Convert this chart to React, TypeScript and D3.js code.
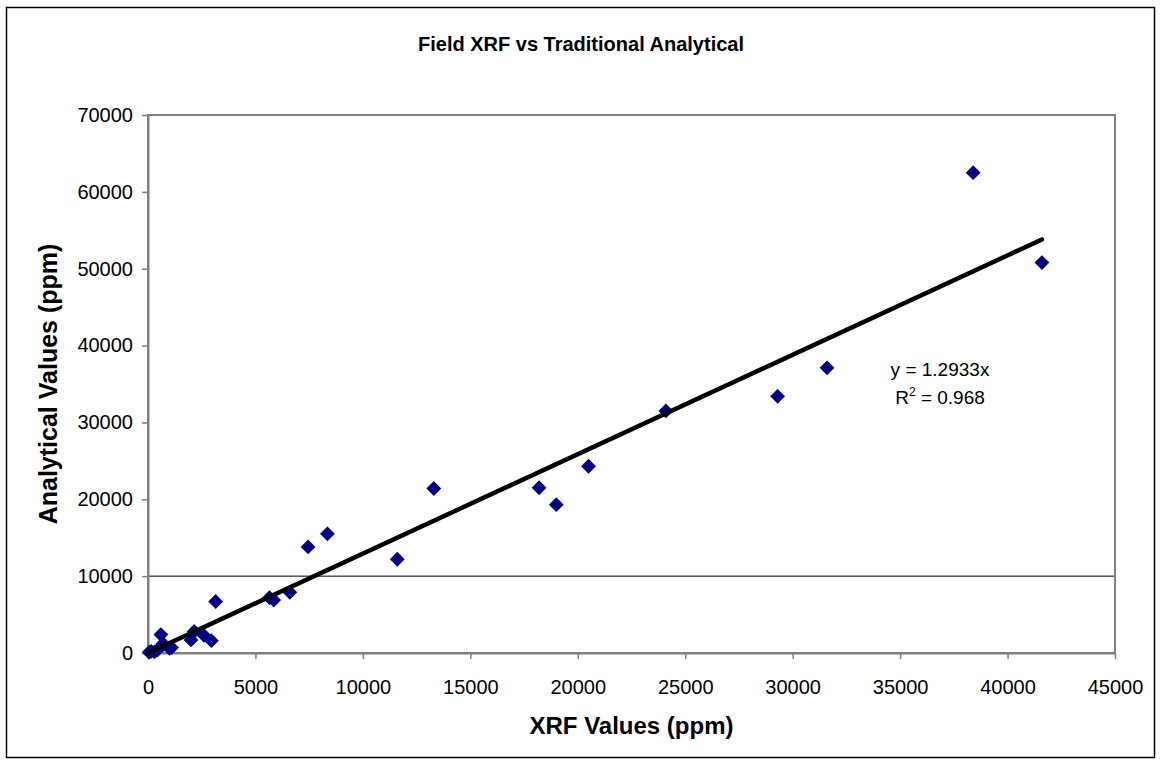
import React, { useRef, useEffect } from "react";
import * as d3 from "d3";

const xrfValues = [
  50, 150, 300, 450, 600, 700, 1000, 1100, 2000, 2150, 2600, 2950, 3150,
  5650, 5850, 6600, 7450, 8350, 11600, 13300, 18200, 19000, 20500, 24100,
  29300, 31600, 38400, 41600,
];
const analyticalValues = [
  100, 200, 150, 400, 2400, 1200, 600, 700, 1700, 2800, 2300, 1600, 6700,
  7200, 6900, 7900, 13800, 15500, 12200, 21400, 21500, 19300, 24300, 31500,
  33400, 37100, 62500, 50800,
];
const xTicks = [0, 5000, 10000, 15000, 20000, 25000, 30000, 35000, 40000, 45000];
const yTicks = [0, 10000, 20000, 30000, 40000, 50000, 60000, 70000];
const gridValues = [10000];
const slope = 1.2933;
const rSquared = "0.968";

const W = 1161;
const H = 765;

const App = () => {
  const ref = useRef<SVGSVGElement>(null);

  useEffect(() => {
    const svg = d3.select(ref.current);
    svg.selectChildren().remove();

    const margin = { top: 115, right: 46, bottom: 112, left: 148 };
    const pw = W - margin.left - margin.right;
    const ph = H - margin.top - margin.bottom;
    const font = "'Liberation Sans', Arial, sans-serif";

    // outer frame
    svg
      .append("rect")
      .attr("x", 6.5)
      .attr("y", 7.5)
      .attr("width", 1148)
      .attr("height", 750)
      .attr("fill", "white")
      .attr("stroke", "black")
      .attr("stroke-width", 1.5);

    // title
    svg
      .append("text")
      .attr("x", 581)
      .attr("y", 51)
      .attr("text-anchor", "middle")
      .style("font-family", font)
      .style("font-size", "20px")
      .style("font-weight", "bold")
      .text("Field XRF vs Traditional Analytical");

    const x = d3.scaleLinear().domain([0, 45000]).range([0, pw]);
    const y = d3.scaleLinear().domain([0, 70000]).range([ph, 0]);

    const g = svg
      .append("g")
      .attr("transform", `translate(${margin.left}, ${margin.top})`);

    // gridline
    g.selectAll(".grid")
      .data(gridValues)
      .enter()
      .append("line")
      .attr("x1", 0)
      .attr("x2", pw)
      .attr("y1", (d) => y(d))
      .attr("y2", (d) => y(d))
      .attr("stroke", "black")
      .attr("stroke-width", 1);

    // plot area border
    g.append("rect")
      .attr("x", 0)
      .attr("y", 0)
      .attr("width", pw)
      .attr("height", ph)
      .attr("fill", "none")
      .attr("stroke", "#808080")
      .attr("stroke-width", 2);

    // axes
    const fmt = d3.format("d");
    const xAxis = g
      .append("g")
      .attr("transform", `translate(0, ${ph})`)
      .call(
        d3.axisBottom(x).tickValues(xTicks).tickFormat(fmt).tickSize(6).tickSizeOuter(0).tickPadding(21)
      );
    const yAxis = g
      .append("g")
      .call(
        d3.axisLeft(y).tickValues(yTicks).tickFormat(fmt).tickSize(6).tickSizeOuter(0).tickPadding(9)
      );
    [xAxis, yAxis].forEach((a) => {
      a.select(".domain").attr("stroke", "#808080").attr("stroke-width", 2);
      a.selectAll(".tick line").attr("stroke", "#808080").attr("stroke-width", 1.5);
      a.selectAll(".tick text")
        .style("font-family", font)
        .style("font-size", "20px")
        .attr("fill", "black");
    });

    // axis titles
    svg
      .append("text")
      .attr("x", margin.left + pw / 2)
      .attr("y", 734)
      .attr("text-anchor", "middle")
      .style("font-family", font)
      .style("font-size", "24px")
      .style("font-weight", "bold")
      .text("XRF Values (ppm)");
    svg
      .append("text")
      .attr("transform", `translate(57, ${margin.top + ph / 2}) rotate(-90)`)
      .attr("text-anchor", "middle")
      .style("font-family", font)
      .style("font-size", "25px")
      .style("font-weight", "bold")
      .text("Analytical Values (ppm)");

    // data points
    const points = xrfValues.map((v, i) => ({ x: v, y: analyticalValues[i] }));
    const diamond = d3.symbol().type(d3.symbolDiamond2).size(140);
    g.selectAll(".pt")
      .data(points)
      .enter()
      .append("path")
      .attr("d", diamond)
      .attr("transform", (d) => `translate(${x(d.x)}, ${y(d.y)})`)
      .attr("fill", "#000080");

    // trendline through origin
    const xMax = d3.max(xrfValues) as number;
    g.append("line")
      .attr("x1", x(0))
      .attr("y1", y(0))
      .attr("x2", x(xMax))
      .attr("y2", y(xMax * slope))
      .attr("stroke", "black")
      .attr("stroke-width", 4.5)
      .attr("stroke-linecap", "round");

    // equation label
    svg
      .append("text")
      .attr("x", 940)
      .attr("y", 376)
      .attr("text-anchor", "middle")
      .style("font-family", font)
      .style("font-size", "19px")
      .text(`y = ${slope}x`);
    const r = svg
      .append("text")
      .attr("x", 940)
      .attr("y", 404)
      .attr("text-anchor", "middle")
      .style("font-family", font)
      .style("font-size", "19px");
    r.append("tspan").text("R");
    r.append("tspan").attr("dy", -8).style("font-size", "12px").text("2");
    r.append("tspan").attr("dy", 8).text(` = ${rSquared}`);
  }, []);

  return (
    <svg
      ref={ref}
      width={W}
      height={H}
      style={{ position: "absolute", left: 0, top: 0, background: "white" }}
    />
  );
};

export default App;
